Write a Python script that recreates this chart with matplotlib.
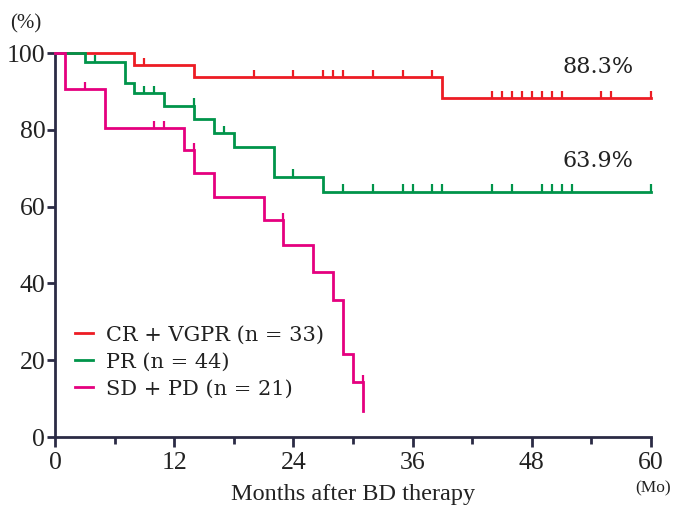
import numpy as np
import matplotlib
matplotlib.use("Agg")
import matplotlib.pyplot as plt

# ---- data ----
months_ticks = [0, 12, 24, 36, 48, 60]
pct_ticks = [0, 20, 40, 60, 80, 100]

labels = ["CR + VGPR (n = 33)", "PR (n = 44)", "SD + PD (n = 21)"]
colors = ["#ED1C24", "#00944A", "#E5007F"]

red_event_t = [8, 14, 39]
red_event_s = [96.9, 93.8, 88.3]
red_cens_t = [9, 20, 24, 27, 28, 29, 32, 35, 38, 44, 45, 46, 47, 48, 49, 50, 51, 55, 56, 60]
red_end = 60

green_event_t = [3, 7, 8, 11, 14, 16, 18, 22, 27]
green_event_s = [97.7, 92.3, 89.5, 86.3, 82.7, 79.1, 75.4, 67.8, 63.9]
green_cens_t = [4, 9, 10, 14, 17, 24, 29, 32, 35, 36, 38, 39, 44, 46, 49, 50, 51, 52, 60]
green_end = 60

pink_event_t = [1, 5, 13, 14, 16, 21, 23, 26, 28, 29, 30, 31]
pink_event_s = [90.5, 80.4, 74.7, 68.8, 62.6, 56.4, 50.1, 42.9, 35.8, 21.5, 14.3, 6.8]
pink_cens_t = [3, 10, 11, 14, 23, 31]
pink_end = 31

annot_text = ["88.3%", "63.9%"]
annot_y = [88.3, 63.9]

series = [
    (red_event_t, red_event_s, red_cens_t, red_end),
    (green_event_t, green_event_s, green_cens_t, green_end),
    (pink_event_t, pink_event_s, pink_cens_t, pink_end),
]

# ---- figure ----
fig = plt.figure(figsize=(6.75, 5.07), dpi=100)
ax = fig.add_axes([55 / 675, 1 - 437 / 507, (651 - 55) / 675, (437 - 53) / 507])

axis_col = "#2B2B45"
serif = ["Liberation Serif", "DejaVu Serif"]

handles = []
for (et, es, ct, tend), col, lab in zip(series, colors, labels):
    t = np.concatenate([[0], et, [tend]])
    s = np.concatenate([[100], es, [es[-1]]])
    ln, = ax.step(t, s, where="post", color=col, lw=2.0, clip_on=False,
                  solid_joinstyle="miter", zorder=3)
    # censor marks at pre-drop level
    et_arr = np.asarray(et)
    s_levels = np.concatenate([[100], es])
    for c in ct:
        idx = np.searchsorted(et_arr, c, side="left")
        lev = s_levels[idx]
        ax.plot([c, c], [lev, lev + 1.9], color=col, lw=1.6, clip_on=False,
                solid_capstyle="butt", zorder=3)
    handles.append(ln)

ax.set_xlim(0, 60)
ax.set_ylim(0, 100)

for sp in ["top", "right"]:
    ax.spines[sp].set_visible(False)
for sp in ["left", "bottom"]:
    ax.spines[sp].set_color(axis_col)
    ax.spines[sp].set_linewidth(2.0)

ax.set_xticks(months_ticks)
ax.set_xticks([6, 18, 30, 42, 54], minor=True)
ax.set_yticks(pct_ticks)
ax.tick_params(axis="both", which="major", direction="out", color=axis_col,
               width=2.0, length=7, labelsize=18.5, labelcolor="#222222", pad=4)
ax.tick_params(axis="x", which="minor", direction="out", color=axis_col,
               width=2.0, length=5)
ax.tick_params(axis="y", which="major", length=6, pad=1)
for lbl in ax.get_xticklabels() + ax.get_yticklabels():
    lbl.set_family(serif)

ax.set_xlabel("Months after BD therapy", fontsize=17.5, family=serif,
              color="#222222", labelpad=7)
fig.text(10 / 675, 1 - 24 / 507, "(%)", fontsize=15, family=serif,
         color="#222222", va="center", ha="left")
fig.text(653 / 675, 1 - 488 / 507, "(Mo)", fontsize=12.5, family=serif,
         color="#222222", va="center", ha="center")

for txt, yv in zip(annot_text, annot_y):
    ax.annotate(txt, xy=(60, yv), xytext=(-12.5, 22), textcoords="offset points",
                ha="right", va="center", fontsize=16, color="#222222",
                family=["DejaVu Serif"])

leg = ax.legend(handles, labels, loc="upper left",
                bbox_to_anchor=(0.009, 0.328),
                frameon=False, handlelength=0.85, handletextpad=0.65,
                labelspacing=0.38, borderaxespad=0.3,
                prop={"family": "DejaVu Serif", "size": 15})
for h in leg.get_lines():
    h.set_linewidth(2.0)
for t in leg.get_texts():
    t.set_color("#222222")

fig.savefig("out.png", dpi=100)
